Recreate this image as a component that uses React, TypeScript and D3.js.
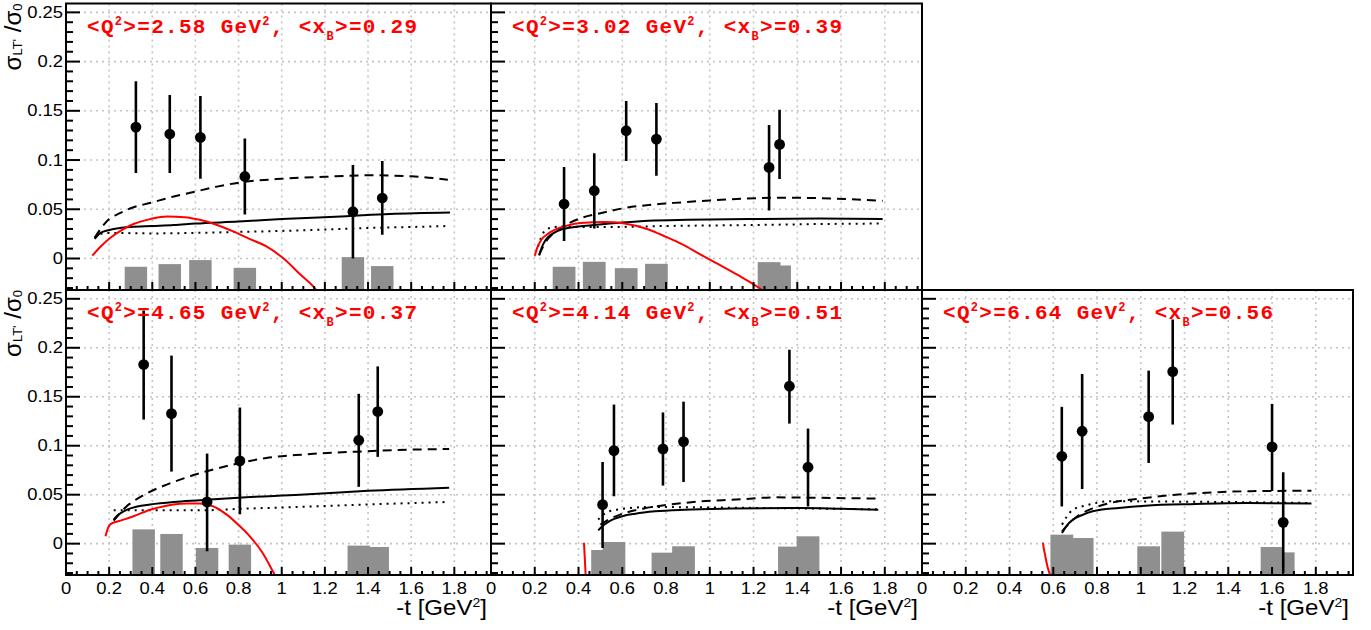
import React from 'react';
import * as d3 from 'd3';

// ---------- axis ticks ----------
const yMajorTicks = [0, 0.05, 0.1, 0.15, 0.2, 0.25];
const yTickLabels = ['0', '0.05', '0.1', '0.15', '0.2', '0.25'];
const xMajorTicks = [0, 0.2, 0.4, 0.6, 0.8, 1.0, 1.2, 1.4, 1.6, 1.8];
const xTickLabels = ['0', '0.2', '0.4', '0.6', '0.8', '1', '1.2', '1.4', '1.6', '1.8'];

// ---------- panel labels ----------
const q2Values = ['2.58', '3.02', '4.65', '4.14', '6.64'];
const xbValues = ['0.29', '0.39', '0.37', '0.51', '0.56'];

// ---------- data: panel 1 ----------
const p1T = [0.324, 0.481, 0.623, 0.829, 1.33, 1.466];
const p1V = [0.1335, 0.1264, 0.123, 0.0833, 0.0475, 0.0614];
const p1Hi = [0.18, 0.166, 0.165, 0.122, 0.095, 0.099];
const p1Lo = [0.0868, 0.0868, 0.081, 0.0447, 0.0, 0.024];
const p1Sys = [-0.0084, -0.0057, -0.0016, -0.0095, 0.0014, -0.0077];
const p1Solid: [number, number][] = [[0.133, 0.02], [0.16, 0.026], [0.2, 0.029], [0.25, 0.031], [0.3, 0.032], [0.4, 0.033], [0.5, 0.034], [0.6, 0.0355], [0.8, 0.0375], [1.0, 0.04], [1.3, 0.043], [1.5, 0.0452], [1.78, 0.0467]];
const p1Dashed: [number, number][] = [[0.133, 0.021], [0.16, 0.03], [0.2, 0.04], [0.25, 0.046], [0.3, 0.051], [0.4, 0.057], [0.5, 0.063], [0.6, 0.068], [0.7, 0.073], [0.8, 0.077], [1.0, 0.081], [1.2, 0.083], [1.4, 0.0845], [1.6, 0.0835], [1.77, 0.08]];
const p1Dotted: [number, number][] = [[0.133, 0.021], [0.16, 0.025], [0.2, 0.026], [0.4, 0.0255], [0.6, 0.026], [0.8, 0.027], [1.0, 0.028], [1.2, 0.0295], [1.4, 0.031], [1.6, 0.032], [1.77, 0.033]];
const p1Red: [number, number][] = [[0.122, 0.003], [0.16, 0.012], [0.206, 0.021], [0.26, 0.029], [0.313, 0.035], [0.39, 0.04], [0.468, 0.0427], [0.55, 0.042], [0.621, 0.0393], [0.7, 0.034], [0.775, 0.0275], [0.85, 0.02], [0.929, 0.0122], [1.006, 0.0004], [1.08, -0.015], [1.16, -0.032], [1.2, -0.045]];

// ---------- data: panel 2 ----------
const p2T = [0.334, 0.472, 0.618, 0.756, 1.271, 1.319];
const p2V = [0.0553, 0.0688, 0.1298, 0.1213, 0.0925, 0.1159];
const p2Hi = [0.0929, 0.107, 0.16, 0.158, 0.1355, 0.151];
const p2Lo = [0.0177, 0.0305, 0.099, 0.084, 0.0488, 0.0807];
const p2Sys = [-0.0084, -0.0034, -0.0098, -0.0054, -0.0037, -0.0071];
const p2Solid: [number, number][] = [[0.22, 0.003], [0.23, 0.01], [0.25, 0.019], [0.28, 0.025], [0.33, 0.03], [0.4, 0.0325], [0.47, 0.034], [0.6, 0.0365], [0.72, 0.0383], [0.9, 0.0393], [1.18, 0.04], [1.5, 0.0405], [1.79, 0.04]];
const p2Dashed: [number, number][] = [[0.22, 0.004], [0.24, 0.013], [0.26, 0.02], [0.29, 0.026], [0.35, 0.035], [0.41, 0.041], [0.5, 0.046], [0.61, 0.0512], [0.75, 0.055], [0.87, 0.057], [1.0, 0.059], [1.32, 0.0617], [1.55, 0.061], [1.79, 0.0586]];
const p2Dotted: [number, number][] = [[0.215, 0.0122], [0.23, 0.022], [0.25, 0.029], [0.29, 0.032], [0.33, 0.0325], [0.45, 0.032], [0.56, 0.032], [0.8, 0.033], [1.2, 0.034], [1.5, 0.035], [1.79, 0.0355]];
const p2Red: [number, number][] = [[0.2, 0.0027], [0.21, 0.01], [0.23, 0.019], [0.26, 0.025], [0.3, 0.03], [0.35, 0.0335], [0.41, 0.036], [0.52, 0.037], [0.61, 0.0355], [0.72, 0.0295], [0.8, 0.022], [0.875, 0.0143], [0.95, 0.005], [1.03, -0.0047], [1.13, -0.017], [1.23, -0.0305], [1.27, -0.037]];

// ---------- data: panel 3 ----------
const p3T = [0.36, 0.489, 0.654, 0.806, 1.357, 1.445];
const p3V = [0.1829, 0.1328, 0.0426, 0.0845, 0.1056, 0.1349];
const p3Hi = [0.238, 0.192, 0.092, 0.139, 0.153, 0.181];
const p3Lo = [0.1267, 0.0736, -0.0078, 0.03, 0.058, 0.0886];
const p3Sys = [0.0146, 0.0099, -0.0044, -0.001, -0.002, -0.0034];
const p3Solid: [number, number][] = [[0.221, 0.0245], [0.24, 0.029], [0.283, 0.0347], [0.33, 0.038], [0.39, 0.04], [0.5, 0.0425], [0.621, 0.0443], [0.8, 0.047], [1.083, 0.05], [1.4, 0.054], [1.776, 0.0572]];
const p3Dashed: [number, number][] = [[0.221, 0.0235], [0.25, 0.031], [0.28, 0.038], [0.313, 0.0433], [0.38, 0.052], [0.467, 0.0603], [0.55, 0.067], [0.652, 0.0739], [0.8, 0.082], [0.929, 0.0875], [1.1, 0.091], [1.39, 0.0943], [1.6, 0.096], [1.776, 0.0967]];
const p3Dotted: [number, number][] = [[0.221, 0.034], [0.4, 0.034], [0.621, 0.034], [0.8, 0.0355], [1.083, 0.0375], [1.4, 0.04], [1.776, 0.0426]];
const p3Red: [number, number][] = [[0.183, 0.0075], [0.195, 0.016], [0.206, 0.02], [0.26, 0.024], [0.313, 0.028], [0.39, 0.0347], [0.45, 0.038], [0.498, 0.04], [0.56, 0.041], [0.621, 0.041], [0.683, 0.038], [0.745, 0.0296], [0.8, 0.019], [0.852, 0.0075], [0.91, -0.009], [0.968, -0.032], [1.0, -0.045]];

// ---------- data: panel 4 ----------
const p4T = [0.51, 0.562, 0.786, 0.88, 1.364, 1.449];
const p4V = [0.0398, 0.095, 0.0967, 0.1042, 0.1607, 0.078];
const p4Hi = [0.0834, 0.142, 0.134, 0.145, 0.198, 0.1175];
const p4Lo = [-0.0044, 0.0484, 0.0593, 0.063, 0.1226, 0.038];
const p4Sys = [-0.0065, 0.0017, -0.0092, -0.0027, -0.003, 0.0075];
const p4Solid: [number, number][] = [[0.49, 0.0136], [0.51, 0.018], [0.54, 0.0228], [0.6, 0.028], [0.66, 0.0306], [0.75, 0.033], [0.886, 0.0347], [1.1, 0.0358], [1.42, 0.0364], [1.6, 0.0356], [1.77, 0.0347]];
const p4Dashed: [number, number][] = [[0.5, 0.0194], [0.54, 0.025], [0.59, 0.0296], [0.7, 0.036], [0.82, 0.04], [0.95, 0.043], [1.12, 0.045], [1.3, 0.0473], [1.5, 0.0468], [1.77, 0.046]];
const p4Dotted: [number, number][] = [[0.49, 0.0245], [0.51, 0.029], [0.54, 0.033], [0.6, 0.0355], [0.74, 0.0375], [0.9, 0.0372], [1.2, 0.0365], [1.5, 0.0358], [1.77, 0.035]];
const p4Red: [number, number][] = [[0.425, 0.001], [0.428, -0.012], [0.431, -0.025], [0.434, -0.04]];

// ---------- data: panel 5 ----------
const p5T = [0.639, 0.732, 1.036, 1.146, 1.6, 1.651];
const p5V = [0.0892, 0.1148, 0.1297, 0.1757, 0.0988, 0.0218];
const p5Hi = [0.1397, 0.1733, 0.1767, 0.2289, 0.1427, 0.0729];
const p5Lo = [0.038, 0.0558, 0.0824, 0.1216, 0.0538, -0.03];
const p5Sys = [0.0092, 0.0058, -0.0027, 0.0123, -0.0034, -0.0089];
const p5Solid: [number, number][] = [[0.64, 0.011], [0.66, 0.018], [0.69, 0.0245], [0.73, 0.029], [0.78, 0.033], [0.9, 0.0365], [1.02, 0.0388], [1.25, 0.0405], [1.48, 0.0415], [1.78, 0.041]];
const p5Dashed: [number, number][] = [[0.64, 0.0126], [0.67, 0.02], [0.71, 0.028], [0.78, 0.036], [0.86, 0.0415], [1.0, 0.046], [1.16, 0.05], [1.3, 0.052], [1.46, 0.0534], [1.78, 0.0541]];
const p5Dotted: [number, number][] = [[0.64, 0.0194], [0.66, 0.027], [0.69, 0.0347], [0.75, 0.039], [0.86, 0.0433], [1.1, 0.043], [1.4, 0.0425], [1.78, 0.0415]];
const p5Red: [number, number][] = [[0.553, 0.001], [0.556, -0.004], [0.563, -0.012], [0.572, -0.022], [0.585, -0.032], [0.59, -0.036]];

const sysHalfWidth = 0.052;
const xDomain = [0, 1.97];
const yDomain = [-0.032, 0.259];

type Curve = [number, number][];
interface PanelData {
  t: number[]; v: number[]; hi: number[]; lo: number[]; sys: number[];
  solid: Curve; dashed: Curve; dotted: Curve; red: Curve;
  q2: string; xb: string;
}

const panelData: PanelData[] = [
  { t: p1T, v: p1V, hi: p1Hi, lo: p1Lo, sys: p1Sys, solid: p1Solid, dashed: p1Dashed, dotted: p1Dotted, red: p1Red, q2: q2Values[0], xb: xbValues[0] },
  { t: p2T, v: p2V, hi: p2Hi, lo: p2Lo, sys: p2Sys, solid: p2Solid, dashed: p2Dashed, dotted: p2Dotted, red: p2Red, q2: q2Values[1], xb: xbValues[1] },
  { t: p3T, v: p3V, hi: p3Hi, lo: p3Lo, sys: p3Sys, solid: p3Solid, dashed: p3Dashed, dotted: p3Dotted, red: p3Red, q2: q2Values[2], xb: xbValues[2] },
  { t: p4T, v: p4V, hi: p4Hi, lo: p4Lo, sys: p4Sys, solid: p4Solid, dashed: p4Dashed, dotted: p4Dotted, red: p4Red, q2: q2Values[3], xb: xbValues[3] },
  { t: p5T, v: p5V, hi: p5Hi, lo: p5Lo, sys: p5Sys, solid: p5Solid, dashed: p5Dashed, dotted: p5Dotted, red: p5Red, q2: q2Values[4], xb: xbValues[4] },
];

// layout boxes
const boxes = [
  { x0: 66, x1: 491, y0: 3.5, y1: 290, yLabels: true, xLabels: false },
  { x0: 491, x1: 922, y0: 3.5, y1: 290, yLabels: false, xLabels: false },
  { x0: 66, x1: 491, y0: 290, y1: 575, yLabels: true, xLabels: true },
  { x0: 491, x1: 922, y0: 290, y1: 575, yLabels: false, xLabels: true },
  { x0: 922, x1: 1353, y0: 290, y1: 575, yLabels: false, xLabels: true },
];

const SANS = '"Liberation Sans", Arial, Helvetica, sans-serif';
const MONO = '"Liberation Mono", "Courier New", monospace';

function Panel({ idx }: { idx: number }) {
  const d = panelData[idx];
  const b = boxes[idx];
  const x = d3.scaleLinear().domain(xDomain).range([b.x0, b.x1]);
  const y = d3.scaleLinear().domain(yDomain).range([b.y1, b.y0]);
  const line = d3.line<[number, number]>().x(p => x(p[0])).y(p => y(p[1])).curve(d3.curveMonotoneX);
  const clipId = `clip${idx}`;

  const xMinor = d3.range(0, 1.9751, 0.05).filter(v => !xMajorTicks.some(m => Math.abs(m - v) < 1e-6));
  const yMinor = d3.range(-0.03, 0.2591, 0.01).filter(v => !yMajorTicks.some(m => Math.abs(m - v) < 1e-6));

  return (
    <g>
      <defs>
        <clipPath id={clipId}>
          <rect x={b.x0} y={b.y0} width={b.x1 - b.x0} height={b.y1 - b.y0} />
        </clipPath>
      </defs>
      {/* grid */}
      <g stroke="#c4c4c4" strokeWidth={1.6} strokeDasharray="2,4">
        {xMajorTicks.filter(t => t > 0).map(t => (
          <line key={'gx' + t} x1={x(t)} x2={x(t)} y1={b.y0} y2={b.y1} />
        ))}
        {yMajorTicks.map(v => (
          <line key={'gy' + v} x1={b.x0} x2={b.x1} y1={y(v)} y2={y(v)} />
        ))}
      </g>
      <g clipPath={`url(#${clipId})`}>
        {/* systematic bars */}
        {d.t.map((t, i) => (
          <rect key={'s' + i} x={x(t - sysHalfWidth)} width={x(t + sysHalfWidth) - x(t - sysHalfWidth)}
            y={y(d.sys[i])} height={b.y1 - y(d.sys[i])} fill="#8f8f8f" />
        ))}
        {/* curves */}
        <path d={line(d.dotted) || ''} fill="none" stroke="#000" strokeWidth={2} strokeDasharray="2,5" />
        <path d={line(d.dashed) || ''} fill="none" stroke="#000" strokeWidth={2} strokeDasharray="9,6" />
        <path d={line(d.solid) || ''} fill="none" stroke="#000" strokeWidth={2} />
        <path d={line(d.red) || ''} fill="none" stroke="#ff0000" strokeWidth={2} />
        {/* error bars and points */}
        {d.t.map((t, i) => (
          <line key={'e' + i} x1={x(t)} x2={x(t)} y1={y(d.lo[i])} y2={y(d.hi[i])} stroke="#000" strokeWidth={2.6} />
        ))}
        {d.t.map((t, i) => (
          <circle key={'p' + i} cx={x(t)} cy={y(d.v[i])} r={5.4} fill="#000" />
        ))}
      </g>
      {/* frame */}
      <rect x={b.x0} y={b.y0} width={b.x1 - b.x0} height={b.y1 - b.y0} fill="none" stroke="#000" strokeWidth={2} />
      {/* ticks */}
      <g stroke="#000" strokeWidth={2}>
        {yMajorTicks.map(v => (
          <line key={'ty' + v} x1={b.x0} x2={b.x0 + 14} y1={y(v)} y2={y(v)} />
        ))}
        {yMinor.map(v => (
          <line key={'tym' + v} x1={b.x0} x2={b.x0 + 7} y1={y(v)} y2={y(v)} />
        ))}
        {xMajorTicks.map(t => (
          <line key={'tx' + t} x1={x(t)} x2={x(t)} y1={b.y1} y2={b.y1 - 8} />
        ))}
        {xMinor.map(t => (
          <line key={'txm' + t} x1={x(t)} x2={x(t)} y1={b.y1} y2={b.y1 - 4} />
        ))}
      </g>
      {/* labels */}
      {b.yLabels && yMajorTicks.map((v, i) => (
        <text key={'ly' + v} transform={`translate(${b.x0 - 3},${y(v) + 5.5}) scale(1.15,1)`} textAnchor="end"
          fontFamily={SANS} fontSize={16} fill="#000">{yTickLabels[i]}</text>
      ))}
      {b.xLabels && xMajorTicks.map((t, i) => (
        <text key={'lx' + t} transform={`translate(${x(t)},${b.y1 + 19}) scale(1.15,1)`} textAnchor="middle"
          fontFamily={SANS} fontSize={16} fill="#000">{xTickLabels[i]}</text>
      ))}
      {b.xLabels && (
        <text transform={`translate(${b.x1 - 4},${615}) scale(1.12,1)`} textAnchor="end" fontFamily={SANS} fontSize={21.5} fill="#000">
          -t [GeV<tspan dy={-8} fontSize={12.5}>2</tspan><tspan dy={8}>]</tspan>
        </text>
      )}
      {b.yLabels && (
        <text transform={`translate(21,${b.y0}) rotate(-90)`} textAnchor="end" fontFamily={SANS} fontSize={24} fill="#000">
          σ<tspan dy={1} fontSize={13}>LT'</tspan><tspan dy={-1}> /σ</tspan><tspan dy={1} fontSize={13}>0</tspan>
        </text>
      )}
      {/* red label */}
      <text x={b.x0 + 21} y={b.y0 + 29} fontFamily={MONO} fontWeight="bold" fontSize={21} letterSpacing={1.3} fill="#ff0000">
        {'<Q'}<tspan dy={-8} fontSize={12}>2</tspan><tspan dy={8}>{`>=${d.q2} GeV`}</tspan><tspan dy={-8} fontSize={12}>2</tspan><tspan dy={8}>{', <x'}</tspan><tspan dy={7} fontSize={12}>B</tspan><tspan dy={-7}>{`>=${d.xb}`}</tspan>
      </text>
    </g>
  );
}

export default function App() {
  return (
    <svg width={1371} height={630} style={{ position: 'absolute', left: 0, top: 0, background: '#fff' }}>
      <rect x={0} y={0} width={1371} height={630} fill="#fff" />
      {panelData.map((_, i) => <Panel key={i} idx={i} />)}
    </svg>
  );
}
